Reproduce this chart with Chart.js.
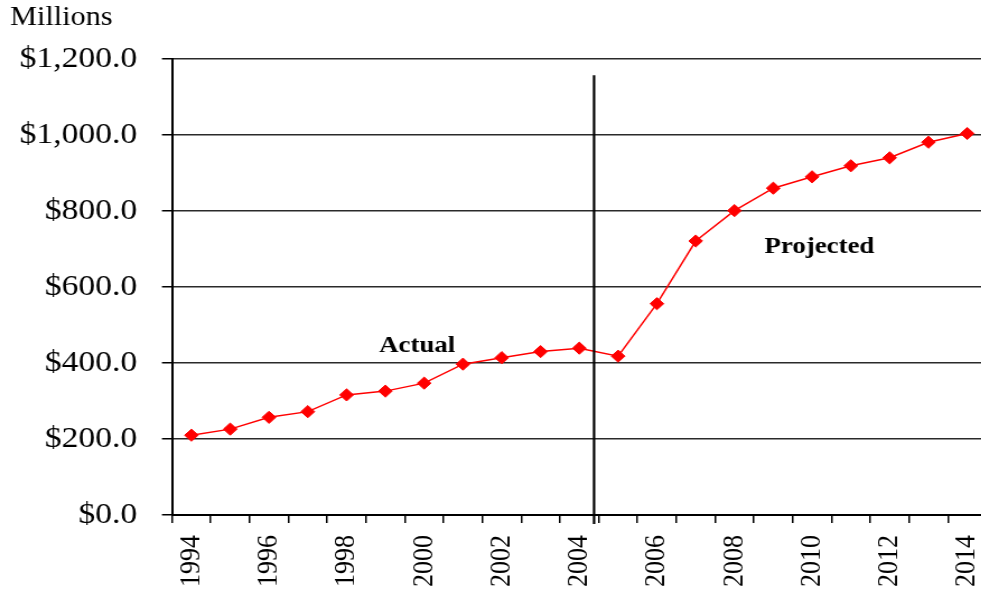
<!DOCTYPE html>
<html>
<head>
<meta charset="utf-8">
<script src="https://cdn.jsdelivr.net/npm/chart.js@4/dist/chart.umd.min.js"></script>
<style>
  html, body { margin: 0; padding: 0; background: #fff; overflow: hidden; width: 981px; height: 595px; }
  #chart { display: block; transform: scaleX(1.12); transform-origin: 0 0; }
</style>
</head>
<body>
<canvas id="chart" width="888" height="595"></canvas>
<script>
// Annual amounts, $ millions
const years = ['1994','1995','1996','1997','1998','1999','2000','2001','2002','2003','2004',
               '2005','2006','2007','2008','2009','2010','2011','2012','2013','2014'];
const amounts = [210, 226, 257, 272, 316, 326, 347, 397, 414, 430, 439,
                 418, 556, 721, 801, 860, 890, 919, 940, 981, 1004];
const yTicks = [0, 200, 400, 600, 800, 1000, 1200];
const unitLabel = 'Millions';
const phaseLabels = ['Actual', 'Projected'];

const serif = "'Liberation Serif', 'Times New Roman', Times, serif";

// Divider between actual and projected years, plus the text labels
const overlay = {
  id: 'overlay',
  afterDatasetsDraw(chart) {
    const { ctx, scales: { x, y } } = chart;
    ctx.save();
    // divider line
    const dx = x.getPixelForValue(10.38);
    ctx.strokeStyle = '#000';
    ctx.lineWidth = 2.2;
    ctx.beginPath();
    ctx.moveTo(dx, y.getPixelForValue(1157));
    ctx.lineTo(dx, y.bottom + 9);
    ctx.stroke();
    // phase labels
    ctx.fillStyle = '#000';
    ctx.font = 'bold 24px ' + serif;
    ctx.textAlign = 'center';
    ctx.textBaseline = 'alphabetic';
    ctx.fillText(phaseLabels[0], x.getPixelForValue(5.82), y.getPixelForValue(429));
    ctx.fillText(phaseLabels[1], x.getPixelForValue(16.19), y.getPixelForValue(690));
    // unit label
    ctx.font = '27px ' + serif;
    ctx.textAlign = 'left';
    ctx.fillText(unitLabel, 9, 25);
    ctx.restore();
  }
};

new Chart(document.getElementById('chart'), {
  type: 'line',
  data: {
    labels: years,
    datasets: [{
      data: amounts,
      borderColor: '#ff0000',
      backgroundColor: '#ff0000',
      borderWidth: 1.5,
      tension: 0,
      pointStyle: 'rectRot',
      pointRadius: 6.1,
      pointBorderWidth: 1,
      pointBorderColor: '#ff0000',
      pointBackgroundColor: '#ff0000'
    }]
  },
  options: {
    responsive: false,
    animation: false,
    devicePixelRatio: 1,
    layout: { padding: { top: 59, left: 0, right: 0, bottom: 0 } },
    plugins: { legend: { display: false }, tooltip: { enabled: false } },
    scales: {
      x: {
        type: 'category',
        offset: true,
        afterFit(scale) {
          scale.height = 80;
          scale.paddingLeft = 0;
          scale.paddingRight = 0;
        },
        grid: {
          display: true,
          drawOnChartArea: false,
          drawTicks: true,
          offset: true,
          tickLength: 8,
          color: '#000',
          lineWidth: 1.5
        },
        border: { display: true, color: '#000', width: 2 },
        ticks: {
          autoSkip: false,
          minRotation: 90,
          maxRotation: 90,
          padding: 12,
          color: '#000',
          font: { family: serif, size: 26 },
          callback(value, index) { return index % 2 === 0 ? years[index] : ''; }
        }
      },
      y: {
        min: yTicks[0],
        max: yTicks[yTicks.length - 1],
        afterFit(scale) { scale.width = 153.6; },
        afterBuildTicks(scale) { scale.ticks = yTicks.map(v => ({ value: v })); },
        grid: {
          color: '#2a2a2a',
          lineWidth: 1.5,
          drawTicks: true,
          tickLength: 9,
          tickColor: '#000'
        },
        border: { display: true, color: '#000', width: 2 },
        ticks: {
          padding: 22,
          color: '#000',
          font: { family: serif, size: 30 },
          callback(value) {
            return '$' + Number(value).toLocaleString('en-US', { minimumFractionDigits: 1, maximumFractionDigits: 1 });
          }
        }
      }
    }
  },
  plugins: [overlay]
});
</script>
</body>
</html>
